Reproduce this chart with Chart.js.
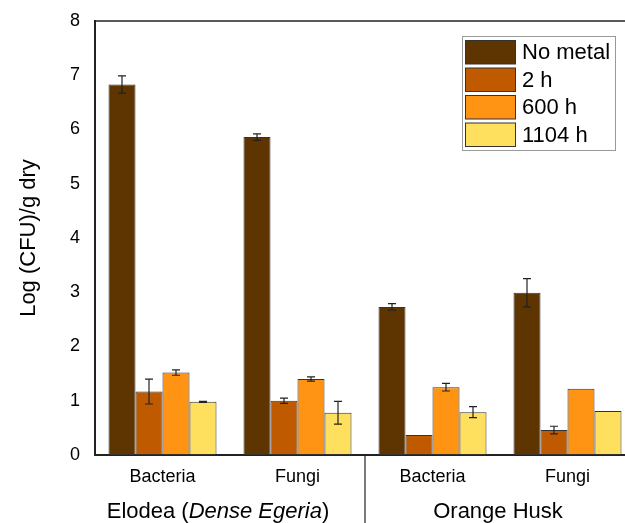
<!DOCTYPE html>
<html>
<head>
<meta charset="utf-8">
<script src="https://cdn.jsdelivr.net/npm/chart.js@4"></script>
<style>
  html, body { margin: 0; padding: 0; overflow: hidden; background: #fff; }
  #wrap { width: 640px; height: 523px; }
</style>
</head>
<body>
<div id="wrap"><canvas id="cfu-chart"></canvas></div>
<script>
const categories = ['Bacteria', 'Fungi', 'Bacteria', 'Fungi'];
const groupNames = [['Elodea (', 'Dense Egeria', ')'], ['Orange Husk']];
const seriesNames = ['No metal', '2 h', '600 h', '1104 h'];
const seriesColors = ['#5e3500', '#bf5a00', '#ff9414', '#ffdf5e'];

const noMetal = [6.83, 5.86, 2.73, 2.99];
const hours2 = [1.17, 1.00, 0.37, 0.46];
const hours600 = [1.52, 1.40, 1.25, 1.22];
const hours1104 = [0.98, 0.78, 0.79, 0.81];

const errNoMetal = [0.16, 0.06, 0.06, 0.26];
const err2 = [0.23, 0.05, 0, 0.07];
const err600 = [0.05, 0.04, 0.07, 0];
const err1104 = [0.01, 0.21, 0.10, 0];

const yTicks = [0, 1, 2, 3, 4, 5, 6, 7, 8];

const allValues = [noMetal, hours2, hours600, hours1104];
const allErrors = [errNoMetal, err2, err600, err1104];

const FONT = '"Liberation Sans", Arial, sans-serif';
Chart.defaults.font.family = FONT;
Chart.defaults.color = '#000';

// error bars, frame line, legend box and group labels
const extras = {
  id: 'extras',
  afterDatasetsDraw(chart) {
    const ctx = chart.ctx;
    const y = chart.scales.y;
    ctx.save();
    ctx.strokeStyle = '#222';
    ctx.lineWidth = 1.2;
    chart.data.datasets.forEach((ds, i) => {
      const meta = chart.getDatasetMeta(i);
      meta.data.forEach((bar, j) => {
        const e = allErrors[i][j];
        if (!e) return;
        const v = ds.data[j];
        const y1 = y.getPixelForValue(v + e);
        const y2 = y.getPixelForValue(v - e);
        ctx.beginPath();
        ctx.moveTo(bar.x, y1); ctx.lineTo(bar.x, y2);
        ctx.moveTo(bar.x - 4, y1); ctx.lineTo(bar.x + 4, y1);
        ctx.moveTo(bar.x - 4, y2); ctx.lineTo(bar.x + 4, y2);
        ctx.stroke();
      });
    });
    ctx.restore();
  },
  afterDraw(chart) {
    const ctx = chart.ctx;
    const area = chart.chartArea;
    const x = chart.scales.x;
    ctx.save();

    // top frame line
    ctx.strokeStyle = '#222';
    ctx.lineWidth = 1.5;
    ctx.beginPath();
    ctx.moveTo(area.left, area.top);
    ctx.lineTo(area.right, area.top);
    ctx.stroke();

    // separator between the two substrates
    const sep = (x.getPixelForValue(1) + x.getPixelForValue(2)) / 2;
    ctx.lineWidth = 1.2;
    ctx.beginPath();
    ctx.moveTo(sep, area.bottom);
    ctx.lineTo(sep, chart.height);
    ctx.stroke();

    // group labels
    const shifts = [-12, -2];
    ctx.fillStyle = '#000';
    ctx.textBaseline = 'alphabetic';
    groupNames.forEach((parts, g) => {
      const mid = (x.getPixelForValue(g * 2) + x.getPixelForValue(g * 2 + 1)) / 2 + shifts[g];
      const fonts = parts.map((p, k) => (k === 1 ? 'italic ' : '') + '22px ' + FONT);
      let total = 0;
      const widths = parts.map((p, k) => { ctx.font = fonts[k]; const w = ctx.measureText(p).width; total += w; return w; });
      let cx = mid - total / 2;
      ctx.textAlign = 'left';
      parts.forEach((p, k) => {
        ctx.font = fonts[k];
        ctx.fillText(p, cx, area.bottom + 63);
        cx += widths[k];
      });
    });

    // legend
    const lx = area.right - 173, ly = area.top + 15;
    ctx.fillStyle = '#fff';
    ctx.fillRect(lx, ly, 153, 114);
    ctx.strokeStyle = '#999';
    ctx.lineWidth = 1;
    ctx.strokeRect(lx + 0.5, ly + 0.5, 153, 114);
    ctx.font = '22px ' + FONT;
    ctx.textBaseline = 'middle';
    ctx.textAlign = 'left';
    seriesNames.forEach((name, i) => {
      const ry = ly + 4.5 + i * 27.5;
      ctx.fillStyle = seriesColors[i];
      ctx.fillRect(lx + 3.5, ry, 50, 23.5);
      ctx.strokeStyle = '#333';
      ctx.strokeRect(lx + 3.5, ry, 50, 23.5);
      ctx.fillStyle = '#000';
      ctx.fillText(name, lx + 60, ry + 12.5);
    });
    ctx.restore();
  }
};

new Chart('cfu-chart', {
  type: 'bar',
  data: {
    labels: categories,
    datasets: seriesNames.map((name, i) => ({
      label: name,
      data: allValues[i],
      backgroundColor: seriesColors[i],
      borderColor: '#333',
      borderWidth: 1,
      borderSkipped: false,
      categoryPercentage: 0.8,
      barPercentage: 1.0
    }))
  },
  options: {
    responsive: true,
    maintainAspectRatio: false,
    animation: false,
    layout: { padding: { left: 0, top: 21, right: 5, bottom: 0 } },
    plugins: {
      legend: { display: false },
      tooltip: { enabled: false }
    },
    scales: {
      x: {
        grid: { display: false, drawTicks: false },
        border: { display: true, color: '#222', width: 2 },
        ticks: { font: { size: 18 }, padding: 11, maxRotation: 0 },
        afterFit(scale) { scale.height = 68; scale.paddingLeft = 0; scale.paddingRight = 0; }
      },
      y: {
        min: 0,
        max: 8,
        afterBuildTicks(scale) { scale.ticks = yTicks.map(v => ({ value: v })); },
        grid: { display: false, drawTicks: false },
        border: { display: true, color: '#222', width: 2 },
        ticks: { font: { size: 18 }, padding: 15 },
        title: {
          display: true,
          text: 'Log (CFU)/g dry',
          font: { size: 22 },
          padding: { top: 16, bottom: 0 }
        },
        afterFit(scale) { scale.width = 95; scale.paddingTop = 0; scale.paddingBottom = 0; }
      }
    }
  },
  plugins: [extras]
});
</script>
</body>
</html>
